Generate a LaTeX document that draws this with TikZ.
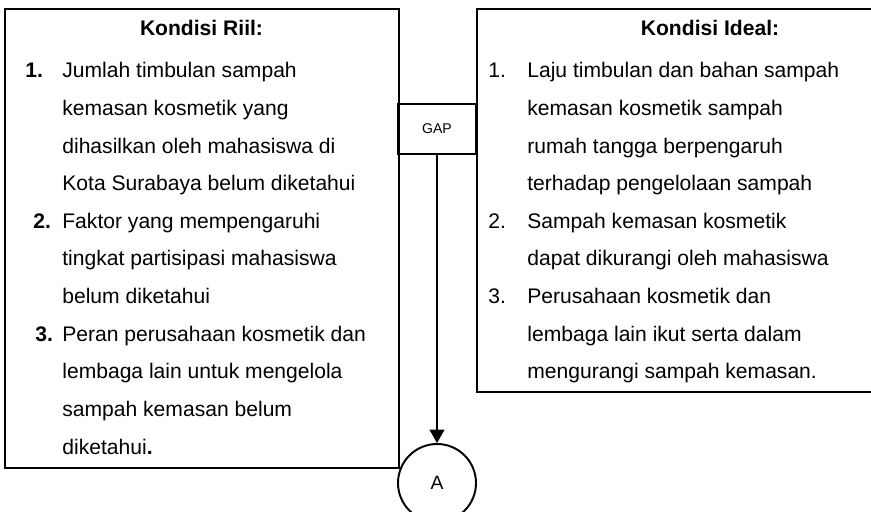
\documentclass[tikz,border=0pt]{standalone}
\usepackage{fontspec}
\setmainfont{Liberation Sans}
\usetikzlibrary{arrows.meta, positioning}

\begin{document}
\begin{tikzpicture}[
    kotak/.style={rectangle, draw, line width=1.1pt, inner sep=0pt},
    bulat/.style={circle, draw, line width=1.1pt, inner sep=0pt,
                  font=\fontsize{11}{13}\selectfont},
    isi/.style={anchor=base west, inner sep=0pt, font=\fontsize{12}{14}\selectfont},
    nomor/.style={isi, font=\fontsize{12}{14}\selectfont\bfseries},
    judul/.style={anchor=base, inner sep=0pt, font=\fontsize{12}{14}\selectfont\bfseries},
    panah/.style={-{Triangle[width=0.3cm, length=0.27cm]}, line width=0.6pt}
]
    \clip (0,0) rectangle (17.42,10.22);

    % Boxes
    \node[kotak, anchor=north west, minimum width=7.88cm, minimum height=9.18cm] (riil) at (0.08,10.06) {};
    \node[kotak, anchor=north west, minimum width=9.4cm, minimum height=7.66cm] (ideal) at (9.52,10.06) {};
    \node[kotak, font=\fontsize{8}{10}\selectfont, minimum width=1.56cm, minimum height=1cm] (gap) at (8.74,7.64) {GAP};
    \node[bulat, minimum size=1.56cm] (hasil) at (8.74,0.56) {A};

    % Titles
    \node[judul] (judulRiil) at (4.03,9.5) {Kondisi Riil:};
    \node[judul] (judulIdeal) at (14.2,9.5) {Kondisi Ideal:};

    % Kondisi riil
    \foreach \teks [count=\i from 0] in {Jumlah timbulan sampah, kemasan kosmetik yang,
        dihasilkan oleh mahasiswa di, Kota Surabaya belum diketahui, Faktor yang mempengaruhi,
        tingkat partisipasi mahasiswa, belum diketahui, Peran perusahaan kosmetik dan,
        lembaga lain untuk mengelola, sampah kemasan belum, diketahui\textbf{.}} {
        \node[isi] (riil-\i) at (1.24,{8.66-0.752*\i}) {\teks};
    }
    \node[nomor] (riilNo1) at (0.5,8.66) {1.};
    \node[nomor] (riilNo2) at (0.66,{8.66-0.752*4}) {2.};
    \node[nomor] (riilNo3) at (0.70,{8.66-0.752*7}) {3.};

    % Kondisi ideal
    \foreach \teks [count=\i from 0] in {Laju timbulan dan bahan sampah, kemasan kosmetik sampah,
        rumah tangga berpengaruh, terhadap pengelolaan sampah, Sampah kemasan kosmetik,
        dapat dikurangi oleh mahasiswa, Perusahaan kosmetik dan, lembaga lain ikut serta dalam,
        mengurangi sampah kemasan.} {
        \node[isi] (ideal-\i) at (10.54,{8.66-0.752*\i}) {\teks};
    }
    \foreach \no/\k in {1/0, 2/4, 3/6} {
        \node[isi] (idealNo\no) at (9.76,{8.66-0.752*\k}) {\no.};
    }

    % Connector
    \draw[panah] (gap.south) -- (hasil.north);
\end{tikzpicture}
\end{document}
